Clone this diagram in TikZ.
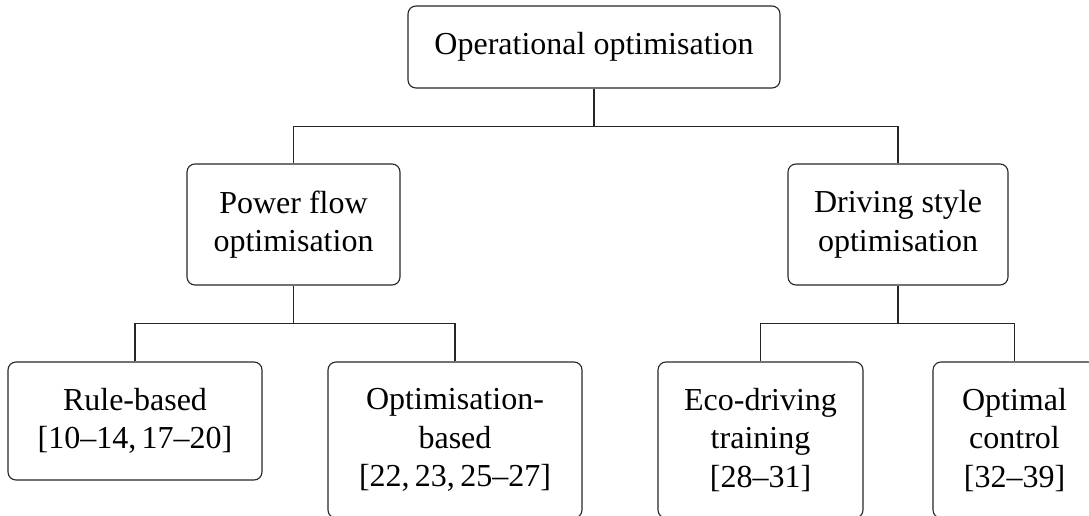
\documentclass[tikz,border=0pt]{standalone}
\usepackage{fontspec}
\setmainfont{Liberation Serif}
\begin{document}
\begin{tikzpicture}[x=1pt,y=-1pt,
  box/.style={draw=black!85, line width=1.1pt, rounded corners=8pt, align=center, inner sep=0pt, font=\fontsize{32}{38.5}\selectfont},
  link/.style={draw=black!85, line width=1.1pt}]
\useasboundingbox (0,0) rectangle (1089,516);
\clip (0,0) rectangle (1089,516);
\node[box, minimum width=372pt, minimum height=82pt] (top) at (594,47) {Operational optimisation};
\node[box, minimum width=213pt, minimum height=121pt] (pf) at (293.5,224.5) {Power flow\\optimisation};
\node[box, minimum width=220pt, minimum height=121pt] (ds) at (898,224.5) {Driving style\\optimisation};
\node[box, minimum width=254pt, minimum height=118pt] (rb) at (135,421) {Rule-based\\{}[10–14,\,17–20]};
\node[box, minimum width=254pt, minimum height=156pt] (ob) at (455,440) {Optimisation-\\based\\{}[22,\,23,\,25–27]};
\node[box, minimum width=205pt, minimum height=156pt] (ed) at (760.5,440) {Eco-driving\\training\\{}[28–31]};
\node[box, minimum width=163pt, minimum height=156pt] (oc) at (1014.5,440) {Optimal\\control\\{}[32–39]};
\path (top.south) ++(0,38) coordinate (j1);
\path (pf.south) ++(0,38) coordinate (j2);
\path (ds.south) ++(0,38) coordinate (j3);
\draw[link] (top.south) -- (j1) -| (pf.north);
\draw[link] (j1) -| (ds.north);
\draw[link] (pf.south) -- (j2) -| (rb.north);
\draw[link] (j2) -| (ob.north);
\draw[link] (ds.south) -- (j3) -| (ed.north);
\draw[link] (j3) -| (oc.north);
\end{tikzpicture}
\end{document}
